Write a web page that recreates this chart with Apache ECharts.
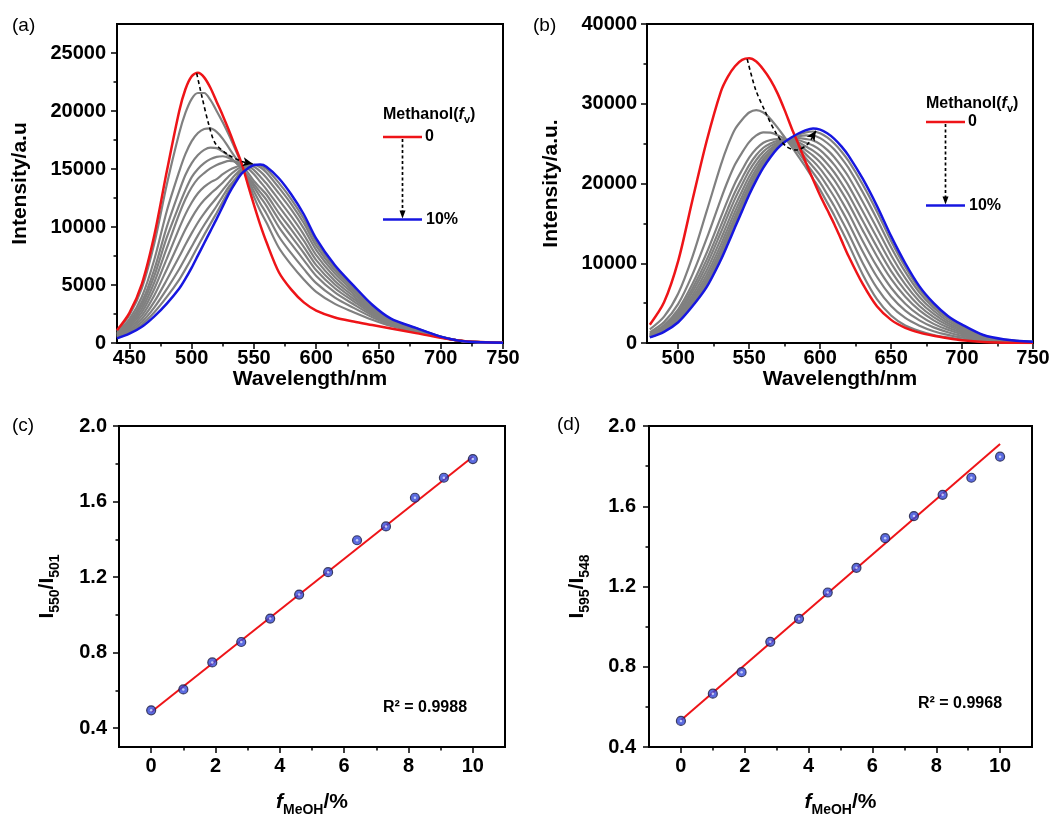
<!DOCTYPE html>
<html><head><meta charset="utf-8">
<script src="https://cdn.jsdelivr.net/npm/echarts@6/dist/echarts.min.js"></script>
<style>html,body{margin:0;padding:0;background:#fff;} #c{width:1062px;height:818px;}</style>
</head><body><div id="c"></div>
<script>
// ---------- Panel (a) spectra ----------
const wavelengthA = [440,450,460,470,480,490,495,500,505,510,515,520,525,530,535,540,545,550,555,560,570,580,590,600,615,630,645,660,680,700,720,750];
const redA   = [1100,2600,5100,9300,14800,20000,21900,23000,23300,22900,22000,20800,19600,18300,16900,15500,13700,11900,10200,8700,6100,4600,3500,2800,2200,1850,1550,1250,850,450,150,20];
const blueA  = [400,800,1400,2300,3400,4700,5550,6500,7550,8600,9650,10700,11800,12900,13800,14600,15050,15350,15380,15200,14200,12800,11100,9000,6700,4950,3300,2100,1300,550,130,30];
const greyA1 = [1030,2420,4730,8600,13660,18100,19850,21050,21550,21550,20950,20000,19000,17900,16700,15450,14000,12600,11400,10390,8210,6730,5480,4410,3370,2660,2010,1470,970,480,150,20];
const greyA2 = [890,2060,3990,7200,11380,14800,16300,17400,18100,18450,18500,18200,17600,16800,16000,15250,14150,13060,12050,11170,9180,7720,6390,5160,3910,3030,2220,1570,1020,490,140,20];
const greyA3 = [810,1840,3550,6360,10010,13100,14500,15500,16200,16650,16850,16800,16500,16100,15600,15100,14300,13430,12600,11820,9990,8540,7150,5780,4360,3340,2390,1660,1070,500,140,30];
const greyA4 = [750,1700,3250,5800,9100,11900,13200,14300,15000,15500,15850,16050,16100,15950,15600,15100,14400,13700,13010,12340,10640,9190,7760,6270,4720,3590,2530,1730,1100,510,140,30];
const greyA5 = [690,1560,2950,5240,8190,11130,12420,13430,14170,14650,15050,15350,15550,15700,15650,15300,14700,13960,13380,12800,11200,9770,8290,6710,5040,3800,2650,1790,1130,510,140,30];
const greyA6 = [640,1410,2660,4680,7280,9900,11110,12110,12910,13460,13850,14130,14550,14900,15150,15300,15050,14550,13900,13250,11770,10340,8820,7140,5350,4020,2780,1850,1170,520,140,30];
const greyA7 = [580,1270,2360,4120,6360,8680,9800,10790,11650,12320,12860,13330,13830,14400,14850,15200,15250,14900,14350,13750,12340,10910,9350,7570,5670,4240,2900,1910,1200,530,140,30];
const greyA8 = [530,1120,2070,3560,5450,7450,8490,9470,10390,11170,11870,12520,13200,13870,14500,15000,15300,15200,14800,14250,12900,11490,9880,8010,5980,4450,3020,1960,1230,530,130,30];
const greyA9 = [480,1000,1810,3070,4650,6380,7350,8320,9280,10170,11010,11810,12660,13490,14140,14900,15250,15350,15150,14700,13390,11980,10340,8380,6250,4640,3130,2020,1260,540,130,30];
const greyA10= [440,890,1590,2650,3970,5470,6370,7330,8340,9320,10270,11210,12190,13170,13960,14750,15150,15350,15300,15000,13800,12390,10720,8690,6480,4800,3210,2060,1280,550,130,30];
const arrowAx = [504,508.5,513.8,519,529.8,540.4,549];
const arrowAy = [23250,21100,18800,17200,16200,15650,15450];

// ---------- Panel (b) spectra ----------
const wavelengthB = [480,490,500,510,520,530,535,540,545,550,555,560,565,570,575,580,585,590,595,600,605,610,615,620,630,640,650,660,670,680,690,700,715,730,750];
const redB   = [2300,5100,10300,17900,25300,31500,33400,34700,35500,35700,35300,34300,33000,31300,29200,26900,24800,22600,20500,18500,16700,14900,12900,10900,7400,4600,2900,1900,1300,900,600,350,120,40,10];
const blueB  = [700,1400,2600,4600,7000,10400,12400,14500,16550,18600,20400,22000,23300,24400,25200,25800,26300,26700,26900,26750,26300,25600,24650,23500,20600,17200,13400,10000,7100,5000,3400,2300,1000,450,150];
const greyB1 = [1700,3300,6200,10800,16500,22300,24800,26800,28000,28900,29200,28900,28100,27000,25800,24600,23300,22000,20600,19200,17600,16000,14200,12400,8600,5500,3450,2200,1500,1000,700,450,170,60,15];
const greyB2 = [1340,2620,4900,8570,13080,18020,20340,22370,23880,25190,26030,26420,26370,26060,25620,24890,23840,22560,21360,20110,18640,17150,15450,13730,10040,6900,4640,3140,2170,1480,1020,670,270,110,30];
const greyB3 = [1150,2260,4220,7390,11280,15760,17980,20040,21700,23240,24360,25110,25460,25570,25520,25070,24250,23130,22110,21010,19690,18300,16710,15060,11480,8310,5840,4070,2840,1960,1350,890,370,150,50];
const greyB4 = [1060,2080,3900,6830,10420,14680,16860,18930,20670,22310,23570,24480,25030,25340,25460,25190,24570,23650,22810,21840,20650,19360,17860,16290,12800,9600,6930,4930,3460,2400,1650,1100,460,200,60];
const greyB5 = [990,1950,3640,6400,9760,13850,16000,18070,19870,21590,22950,24000,24690,25150,25410,25300,24870,24160,23500,22670,21600,20420,19010,17510,14120,10880,8030,5790,4080,2840,1940,1300,550,240,80];
const greyB6 = [920,1820,3390,5960,9090,13020,15130,17210,19070,20870,22340,23520,24360,24970,25370,25400,25150,24630,24130,23430,22470,21380,20050,18620,15320,12050,9020,6570,4640,3240,2210,1490,640,280,90];
const greyB7 = [860,1700,3180,5590,8520,12300,14380,16470,18380,20250,21810,23100,24070,24820,25320,25500,25420,25100,24760,24180,23340,22340,21100,19730,16520,13220,10020,7350,5200,3640,2480,1670,720,320,100];
const greyB8 = [810,1610,3000,5280,8050,11710,13760,15850,17810,19730,21370,22760,23830,24690,25290,25590,25680,25570,25390,24940,24210,23300,22140,20840,17720,14390,11010,8130,5760,4040,2750,1860,800,360,120];
const greyB9 = [770,1530,2850,5030,7670,11230,13270,15360,17350,19320,21020,22480,23640,24580,25250,25670,25930,26040,26020,25690,25080,24260,23190,21950,18920,15560,12010,8910,6320,4440,3020,2040,880,400,130];
const greyB10= [730,1460,2710,4790,7290,10760,12770,14870,16890,18910,20660,22210,23440,24480,25220,25750,26140,26420,26520,26300,25780,25020,24020,22830,19880,16500,12800,9530,6760,4760,3240,2190,950,430,140];
const arrowBx = [548.6,554.5,561.6,568.7,575.8,582.9,591,597];
const arrowBy = [35600,31800,28900,26400,24700,24200,24900,26600];

// ---------- Panels (c) and (d) ratios ----------
const fMeOH  = [0,1,1.9,2.8,3.7,4.6,5.5,6.4,7.3,8.2,9.1,10];
const ratioC = [0.494,0.605,0.748,0.856,0.980,1.107,1.226,1.395,1.468,1.620,1.726,1.825];
const ratioD = [0.530,0.666,0.773,0.924,1.039,1.170,1.293,1.441,1.551,1.657,1.742,1.847];
const fitX = [0,10];
const fitC = [0.485,1.837];
const fitD = [0.533,1.910];

// ---------- Tick values ----------
const ticksAxMajor = [450,500,550,600,650,700,750];
const ticksAxMinor = [475,525,575,625,675,725];
const ticksAyMajor = [0,5000,10000,15000,20000,25000];
const ticksAyMinor = [2500,7500,12500,17500,22500];
const ticksBxMajor = [500,550,600,650,700,750];
const ticksBxMinor = [525,575,625,675,725];
const ticksByMajor = [0,10000,20000,30000,40000];
const ticksByMinor = [5000,15000,25000,35000];
const ticksFMajor = [0,2,4,6,8,10];
const ticksFMinor = [1,3,5,7,9];
const ticksRMajor = [0.4,0.8,1.2,1.6,2.0];
const ticksRMinor = [0.6,1.0,1.4,1.8];

const FONT = '"Liberation Sans", Arial, Helvetica, sans-serif';
const RED = '#ee1418', BLUE = '#1616e0', GREY = '#808080';

function pairs(xs, ys) { return xs.map((x, i) => [x, ys[i]]); }

function axisPair(dim, gi, min, max, major, minor, o) {
  const pos = dim === 'x' ? 'bottom' : 'left';
  const main = {
    type: 'value', gridIndex: gi, min: min, max: max, position: pos,
    axisLine: {show: true, onZero: false, lineStyle: {color: '#000', width: 2}},
    axisTick: {show: true, inside: false, customValues: major, length: 6, lineStyle: {color: '#000', width: 1.5}},
    axisLabel: {show: true, customValues: major, color: '#000', fontSize: 20, fontWeight: 'bold',
      fontFamily: FONT, margin: o.margin, formatter: o.fmt || (v => String(v))},
    splitLine: {show: false},
    name: o.name, nameLocation: 'middle', nameGap: o.gap,
    nameTextStyle: Object.assign({color: '#000', fontSize: 21, fontWeight: 'bold', fontFamily: FONT}, o.nameStyle || {})
  };
  const mn = {
    type: 'value', gridIndex: gi, min: min, max: max, position: pos,
    axisLine: {show: false, onZero: false},
    axisTick: {show: true, inside: false, customValues: minor, length: 3.5, lineStyle: {color: '#000', width: 1.5}},
    axisLabel: {show: false}, splitLine: {show: false}
  };
  return [main, mn];
}

const richName = {
  b: {fontSize: 21, fontWeight: 'bold', fontFamily: FONT, color: '#000'},
  i: {fontSize: 21, fontWeight: 'bold', fontStyle: 'italic', fontFamily: FONT, color: '#000'},
  s: {fontSize: 14, fontWeight: 'bold', fontFamily: FONT, color: '#000', padding: [15, 0, 0, 0]}
};

const fmt1 = v => v.toFixed(1);

const xAxis = [].concat(
  axisPair('x', 0, 440, 750, ticksAxMajor, ticksAxMinor, {margin: 5, name: 'Wavelength/nm', gap: 24}),
  axisPair('x', 1, 478, 750, ticksBxMajor, ticksBxMinor, {margin: 5, name: 'Wavelength/nm', gap: 24}),
  axisPair('x', 2, -1, 11, ticksFMajor, ticksFMinor, {margin: 9, name: '{i|f}{s|MeOH}{b|/%}', gap: 41, nameStyle: {rich: richName}}),
  axisPair('x', 3, -1, 11, ticksFMajor, ticksFMinor, {margin: 9, name: '{i|f}{s|MeOH}{b|/%}', gap: 41, nameStyle: {rich: richName}})
);
const yAxis = [].concat(
  axisPair('y', 0, 0, 27500, ticksAyMajor, ticksAyMinor, {margin: 11, name: 'Intensity/a.u', gap: 86}),
  axisPair('y', 1, 0, 40000, ticksByMajor, ticksByMinor, {margin: 10, name: 'Intensity/a.u.', gap: 85}),
  axisPair('y', 2, 0.3, 2.0, ticksRMajor, ticksRMinor, {margin: 12, fmt: fmt1, name: '{b|I}{s|550}{b|/I}{s|501}', gap: 57, nameStyle: {rich: richName}}),
  axisPair('y', 3, 0.4, 2.0, ticksRMajor, ticksRMinor, {margin: 13, fmt: fmt1, name: '{b|I}{s|595}{b|/I}{s|548}', gap: 57, nameStyle: {rich: richName}})
);

function spec(ai, xs, ys, color, width, z) {
  return {type: 'line', xAxisIndex: ai, yAxisIndex: ai, data: pairs(xs, ys), smooth: 0.3,
    symbol: 'none', showSymbol: false, lineStyle: {color: color, width: width}, z: z, silent: true};
}
function arrowSeries(ai, xs, ys, rot) {
  const d = pairs(xs, ys).map((p, i, arr) => i === arr.length - 1
    ? {value: p, symbol: 'arrow', symbolSize: [7, 10], symbolRotate: rot}
    : {value: p});
  return {type: 'line', xAxisIndex: ai, yAxisIndex: ai, data: d, smooth: 0.3, symbol: 'none', showSymbol: true,
    lineStyle: {color: '#000', width: 1.6, type: [4, 3]}, itemStyle: {color: '#000'}, z: 6, silent: true};
}

const greysA = [greyA1, greyA2, greyA3, greyA4, greyA5, greyA6, greyA7, greyA8, greyA9, greyA10];
const greysB = [greyB1, greyB2, greyB3, greyB4, greyB5, greyB6, greyB7, greyB8, greyB9, greyB10];

const series = [];
greysA.forEach(g => series.push(spec(0, wavelengthA, g, GREY, 2.2, 2)));
series.push(spec(0, wavelengthA, redA, RED, 2.5, 3));
series.push(spec(0, wavelengthA, blueA, BLUE, 2.5, 3));
series.push(arrowSeries(0, arrowAx, arrowAy, -102));
greysB.forEach(g => series.push(spec(2, wavelengthB, g, GREY, 2.2, 2)));
series.push(spec(2, wavelengthB, redB, RED, 2.5, 3));
series.push(spec(2, wavelengthB, blueB, BLUE, 2.5, 3));
series.push(arrowSeries(2, arrowBx, arrowBy, -32));

function fitAndPoints(ai, ys, fit) {
  return [
    {type: 'line', xAxisIndex: ai, yAxisIndex: ai, data: pairs(fitX, fit), symbol: 'none', showSymbol: false,
      lineStyle: {color: RED, width: 2}, z: 2, silent: true},
    {type: 'scatter', xAxisIndex: ai, yAxisIndex: ai, data: pairs(fMeOH, ys), symbol: 'circle', symbolSize: 9,
      itemStyle: {color: '#3347d8', borderColor: '#1c1c40', borderWidth: 1.2}, z: 3, silent: true},
    {type: 'scatter', xAxisIndex: ai, yAxisIndex: ai, data: pairs(fMeOH, ys), symbol: 'circle', symbolSize: 2.5,
      itemStyle: {color: '#dfe3ff'}, z: 4, silent: true}
  ];
}
series.push(...fitAndPoints(4, ratioC, fitC));
series.push(...fitAndPoints(6, ratioD, fitD));

function txt(x, y, text, size, weight, align, extra) {
  return Object.assign({type: 'text', z: 20, silent: true, style: Object.assign({
    x: x, y: y, text: text, fill: '#000', fontSize: size, fontWeight: weight, fontFamily: FONT,
    align: align || 'left', textAlign: align || 'left', verticalAlign: 'middle', textVerticalAlign: 'middle'
  }, extra || {})});
}
const legRich = {
  b: {fontSize: 16, fontWeight: 'bold', fontFamily: FONT, fill: '#000', color: '#000'},
  i: {fontSize: 16, fontWeight: 'bold', fontStyle: 'italic', fontFamily: FONT, fill: '#000', color: '#000'},
  s: {fontSize: 11, fontWeight: 'bold', fontFamily: FONT, fill: '#000', color: '#000', padding: [10, 0, 0, 0]}
};
function legend(x0, yTitle, yRed, yBlue) {
  const xm = x0 + 19.5;
  return [
    txt(x0, yTitle, '{b|Methanol(}{i|f}{s|v}{b|)}', 16, 'bold', 'left', {rich: legRich}),
    {type: 'line', silent: true, z: 20, shape: {x1: x0, y1: yRed, x2: x0 + 39, y2: yRed}, style: {stroke: RED, lineWidth: 2.5}},
    txt(x0 + 42, yRed, '0', 16, 'bold'),
    {type: 'line', silent: true, z: 20, shape: {x1: xm, y1: yRed + 2, x2: xm, y2: yBlue - 7}, style: {stroke: '#000', lineWidth: 1.7, lineDash: [3, 2.5]}},
    {type: 'polygon', silent: true, z: 20, shape: {points: [[xm - 3, yBlue - 9], [xm + 3, yBlue - 9], [xm, yBlue - 1]]}, style: {fill: '#000'}},
    {type: 'line', silent: true, z: 20, shape: {x1: x0, y1: yBlue, x2: x0 + 39, y2: yBlue}, style: {stroke: BLUE, lineWidth: 2.5}},
    txt(x0 + 43, yBlue, '10%', 16, 'bold')
  ];
}

const graphic = [].concat(
  [txt(12, 26, '(a)', 19, 'normal'), txt(533, 26, '(b)', 19, 'normal'),
   txt(12, 426, '(c)', 19, 'normal'), txt(557, 425, '(d)', 19, 'normal'),
   txt(383, 708, 'R² = 0.9988', 16, 'bold'), txt(918, 704, 'R² = 0.9968', 16, 'bold')],
  legend(383, 115, 137, 219.5),
  legend(926, 104, 122, 205.5)
);

const gridStyle = {show: true, borderColor: '#000', borderWidth: 2, backgroundColor: 'transparent', containLabel: false};
const option = {
  animation: false,
  backgroundColor: '#fff',
  grid: [
    Object.assign({left: 117, top: 24, width: 386, height: 319}, gridStyle),
    Object.assign({left: 647, top: 24, width: 386, height: 319}, gridStyle),
    Object.assign({left: 119, top: 426, width: 386, height: 322}, gridStyle),
    Object.assign({left: 649, top: 426, width: 383, height: 322}, gridStyle)
  ],
  xAxis: xAxis,
  yAxis: yAxis,
  series: series,
  graphic: graphic
};
const chart = echarts.init(document.getElementById('c'), null, {renderer: 'canvas'});
chart.setOption(option);
</script>
</body></html>
